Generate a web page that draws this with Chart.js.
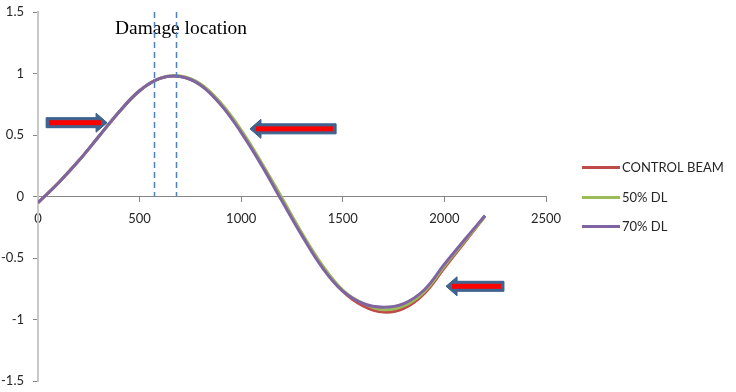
<!DOCTYPE html>
<html>
<head>
<meta charset="utf-8">
<style>
  html, body { margin: 0; padding: 0; background: #fff; }
</style>
<script src="https://cdn.jsdelivr.net/npm/chart.js@4.4.1/dist/chart.umd.min.js"></script>
</head>
<body>
<canvas id="chart-mode" width="736" height="392"></canvas>
<script>
// position along the beam and the mode shape values
const positions = [0, 100, 200, 300, 400, 500, 600, 700, 800, 900, 1000, 1100,
  1200, 1300, 1400, 1500, 1600, 1700, 1800, 1900, 2000, 2100, 2200];
const controlBeam = [-0.05, 0.11, 0.29, 0.49, 0.69, 0.86, 0.96, 0.975, 0.91, 0.75, 0.53, 0.265,
  -0.02, -0.31, -0.57, -0.77, -0.89, -0.94, -0.91, -0.79, -0.58, -0.37, -0.16];
const dl50 = [-0.05, 0.11, 0.29, 0.49, 0.69, 0.86, 0.96, 0.98, 0.915, 0.76, 0.54, 0.275,
  -0.01, -0.30, -0.56, -0.76, -0.87, -0.92, -0.89, -0.775, -0.565, -0.36, -0.16];
const dl70 = [-0.05, 0.11, 0.29, 0.49, 0.69, 0.86, 0.96, 0.975, 0.905, 0.745, 0.52, 0.255,
  -0.035, -0.32, -0.58, -0.77, -0.87, -0.90, -0.87, -0.76, -0.55, -0.35, -0.155];
const seriesNames = ["CONTROL BEAM", "50% DL", "70% DL"];
const xTicks = [0, 500, 1000, 1500, 2000, 2500];
const yTicks = [-1.5, -1, -0.5, 0, 0.5, 1, 1.5];
const damageZone = [570, 680];
const damageLabel = "Damage location";
// arrows: [tail x, tip x, y] in data units
const arrowMarks = [[40, 340, 0.6], [1467, 1043, 0.55], [2293, 2008, -0.73]];

const toPts = (ys) => positions.map((x, i) => ({ x: x, y: ys[i] }));
const colors = ["#BE4B48", "#9BBB59", "#8064A2"];

const extras = {
  id: "extras",
  afterDatasetsDraw(chart) {
    const { ctx, scales: { x, y } } = chart;
    ctx.save();
    // label
    ctx.font = "19.4px 'Liberation Serif'";
    ctx.fillStyle = "#000";
    ctx.textAlign = "center";
    ctx.textBaseline = "alphabetic";
    ctx.fillText(damageLabel, x.getPixelForValue(704), y.getPixelForValue(1.32));
    // dashed zone lines
    ctx.strokeStyle = "#4F81BD";
    ctx.lineWidth = 1.5;
    ctx.setLineDash([6, 4]);
    damageZone.forEach(v => {
      const px = Math.round(x.getPixelForValue(v)) + 0.5;
      ctx.beginPath();
      ctx.moveTo(px, y.getPixelForValue(1.5));
      ctx.lineTo(px, y.getPixelForValue(0));
      ctx.stroke();
    });
    ctx.setLineDash([]);
    // block arrows
    arrowMarks.forEach(([a, b, v]) => {
      const x0 = x.getPixelForValue(a), x1 = x.getPixelForValue(b), py = y.getPixelForValue(v);
      const dir = x1 > x0 ? 1 : -1;
      const head = 11, bh = 5, hh = 9.5;
      const xn = x1 - dir * head;
      ctx.beginPath();
      ctx.moveTo(x0, py - bh);
      ctx.lineTo(xn, py - bh);
      ctx.lineTo(xn, py - hh);
      ctx.lineTo(x1, py);
      ctx.lineTo(xn, py + hh);
      ctx.lineTo(xn, py + bh);
      ctx.lineTo(x0, py + bh);
      ctx.closePath();
      ctx.fillStyle = "#41648F";
      ctx.fill();
      ctx.strokeStyle = "#385D8A";
      ctx.lineWidth = 1;
      ctx.stroke();
      ctx.fillStyle = "#FF0000";
      const r0 = x0 + dir * 3, r1 = x1 - dir * 6;
      ctx.fillRect(Math.min(r0, r1), py - 2.5, Math.abs(r1 - r0), 5);
    });
    ctx.restore();
  },
  afterDraw(chart) {
    const { ctx, chartArea } = chart;
    const mid = (chartArea.top + chartArea.bottom) / 2;
    ctx.save();
    ctx.font = "13px Lato";
    ctx.fillStyle = "#262626";
    ctx.textBaseline = "middle";
    ctx.textAlign = "left";
    chart.data.datasets.forEach((ds, i) => {
      const ly = Math.round(mid + (i - 1) * 29.5) + 0.5;
      ctx.strokeStyle = ds.borderColor;
      ctx.lineWidth = 3;
      ctx.beginPath();
      ctx.moveTo(chartArea.right + 36, ly);
      ctx.lineTo(chartArea.right + 74, ly);
      ctx.stroke();
      ctx.fillText(ds.label, chartArea.right + 76, ly);
    });
    ctx.restore();
  }
};

new Chart(document.getElementById("chart-mode"), {
  type: "line",
  data: {
    datasets: [controlBeam, dl50, dl70].map((ys, i) => ({
      label: seriesNames[i],
      data: toPts(ys),
      borderColor: colors[i],
      backgroundColor: colors[i],
      borderWidth: 3,
      pointRadius: 0,
      tension: 0.4,
      fill: false,
      order: 3 - i
    }))
  },
  options: {
    responsive: false,
    animation: false,
    layout: { padding: { top: 12, bottom: 11, left: 0, right: 190 } },
    plugins: { legend: { display: false }, tooltip: { enabled: false } },
    scales: {
      x: {
        type: "linear",
        min: 0,
        max: 2500,
        position: { y: 0 },
        afterBuildTicks: s => { s.ticks = xTicks.map(v => ({ value: v })); },
        grid: { drawOnChartArea: false, drawTicks: true, tickLength: 5, color: "#868686" },
        border: { color: "#868686", width: 1 },
        ticks: {
          padding: 10,
          maxRotation: 0,
          autoSkip: false,
          color: "#262626",
          font: { family: "Lato", size: 13 },
          callback: v => String(v)
        }
      },
      y: {
        min: -1.5,
        max: 1.5,
        position: "left",
        afterBuildTicks: s => { s.ticks = yTicks.map(v => ({ value: v })); },
        afterFit: s => { s.width = 38; s.paddingTop = 0; s.paddingBottom = 0; },
        grid: { drawOnChartArea: false, drawTicks: true, tickLength: 5, color: "#868686" },
        border: { color: "#C8C8C8", width: 2 },
        ticks: {
          padding: 9,
          color: "#262626",
          font: { family: "Lato", size: 13 },
          callback: v => String(v)
        }
      }
    }
  },
  plugins: [extras]
});
</script>
</body>
</html>
